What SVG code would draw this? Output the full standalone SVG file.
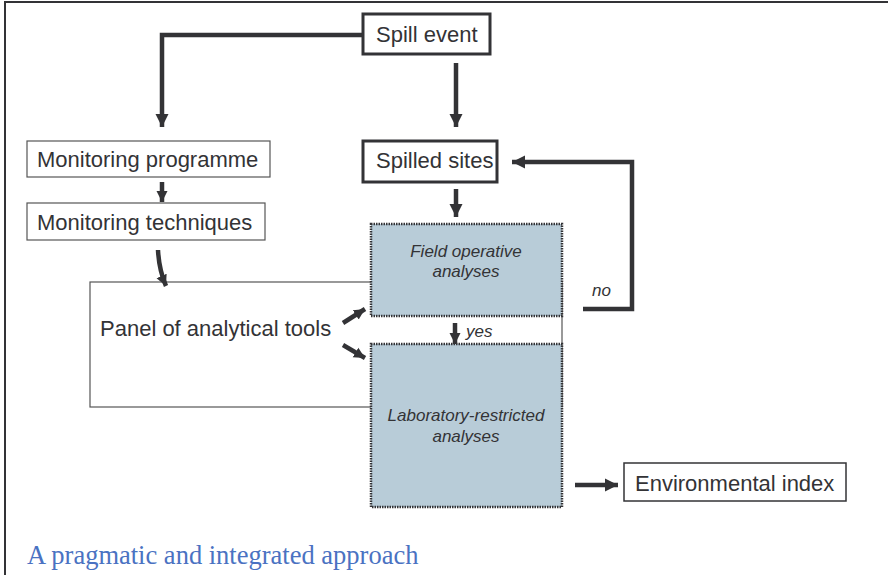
<svg xmlns="http://www.w3.org/2000/svg" width="888" height="575" viewBox="0 0 888 575">
<defs>
<marker id="ah" markerUnits="userSpaceOnUse" markerWidth="14" markerHeight="14" viewBox="0 0 14 14" refX="13" refY="7" orient="auto">
<path d="M0,0.5 L13,7 L0,13.5 Z" fill="#333336"/>
</marker>
<marker id="ahs" markerUnits="userSpaceOnUse" markerWidth="12" markerHeight="12" viewBox="0 0 12 12" refX="11" refY="6" orient="auto">
<path d="M0,0.5 L11,6 L0,11.5 Z" fill="#333336"/>
</marker>
</defs>
<style>
.t{font-family:"Liberation Sans",Arial,sans-serif;font-size:22px;fill:#333336}
.i{font-family:"Liberation Sans",Arial,sans-serif;font-size:17px;font-style:italic;fill:#333336}
.thin{fill:#fff;stroke:#555;stroke-width:1.2}
.bold{fill:#fff;stroke:#333336;stroke-width:3}
.blue{fill:#b8ccd8;stroke:#333336;stroke-width:2.5;stroke-dasharray:1.5 1}
.c{fill:none;stroke:#333336;stroke-width:4.5}
</style>
<rect width="888" height="575" fill="#fff"/>
<path d="M5,576 V2 H888" fill="none" stroke="#333336" stroke-width="2"/>

<g id="panel">
<rect class="thin" x="90" y="282" width="472" height="125"/>
<text class="t" x="100" y="336">Panel of analytical tools</text>
</g>

<g id="spill-event">
<rect class="bold" x="363" y="14" width="127" height="40"/>
<text class="t" x="376" y="42">Spill event</text>
</g>

<g id="spilled-sites">
<rect class="bold" x="363" y="141" width="134" height="41"/>
<text class="t" x="376" y="168">Spilled sites</text>
</g>

<g id="monitoring-programme">
<rect class="thin" x="27" y="141" width="243" height="36"/>
<text class="t" x="37" y="167">Monitoring programme</text>
</g>

<g id="monitoring-techniques">
<rect class="thin" x="27" y="203" width="238" height="37"/>
<text class="t" x="37" y="230">Monitoring techniques</text>
</g>

<g id="field">
<rect class="blue" x="371" y="224" width="191" height="92"/>
<text class="i" x="466" y="257" text-anchor="middle">Field operative</text>
<text class="i" x="466" y="277" text-anchor="middle">analyses</text>
</g>

<g id="lab">
<rect class="blue" x="371" y="344" width="191" height="163"/>
<text class="i" x="466" y="421" text-anchor="middle">Laboratory-restricted</text>
<text class="i" x="466" y="442" text-anchor="middle">analyses</text>
</g>

<g id="env-index">
<rect fill="#fff" stroke="#333336" stroke-width="1.5" x="624" y="463" width="222" height="38"/>
<text class="t" x="635" y="491">Environmental index</text>
</g>

<g id="connectors">
<path class="c" d="M363,35 H162 V127" marker-end="url(#ah)"/>
<path class="c" d="M456,63 V127" marker-end="url(#ah)"/>
<path class="c" d="M162,182 V202" marker-end="url(#ahs)"/>
<path class="c" d="M456,189 V217" marker-end="url(#ah)"/>
<path class="c" d="M158,250 Q159,270 166,286" marker-end="url(#ahs)"/>
<path class="c" d="M583,309 H632 V162 H512" marker-end="url(#ah)"/>
<path class="c" d="M343,323 L365,309" marker-end="url(#ahs)"/>
<path class="c" d="M343,345 L365,358" marker-end="url(#ahs)"/>
<path class="c" d="M455,323 V344" marker-end="url(#ahs)"/>
<path class="c" d="M575,485 H618" marker-end="url(#ah)"/>
<text class="i" x="592" y="296">no</text>
<text class="i" x="466" y="337">yes</text>
</g>

<text x="27" y="564" font-family="'Liberation Serif','Times New Roman',serif" font-size="26.5" fill="#4a72c2">A pragmatic and integrated approach</text>
</svg>
